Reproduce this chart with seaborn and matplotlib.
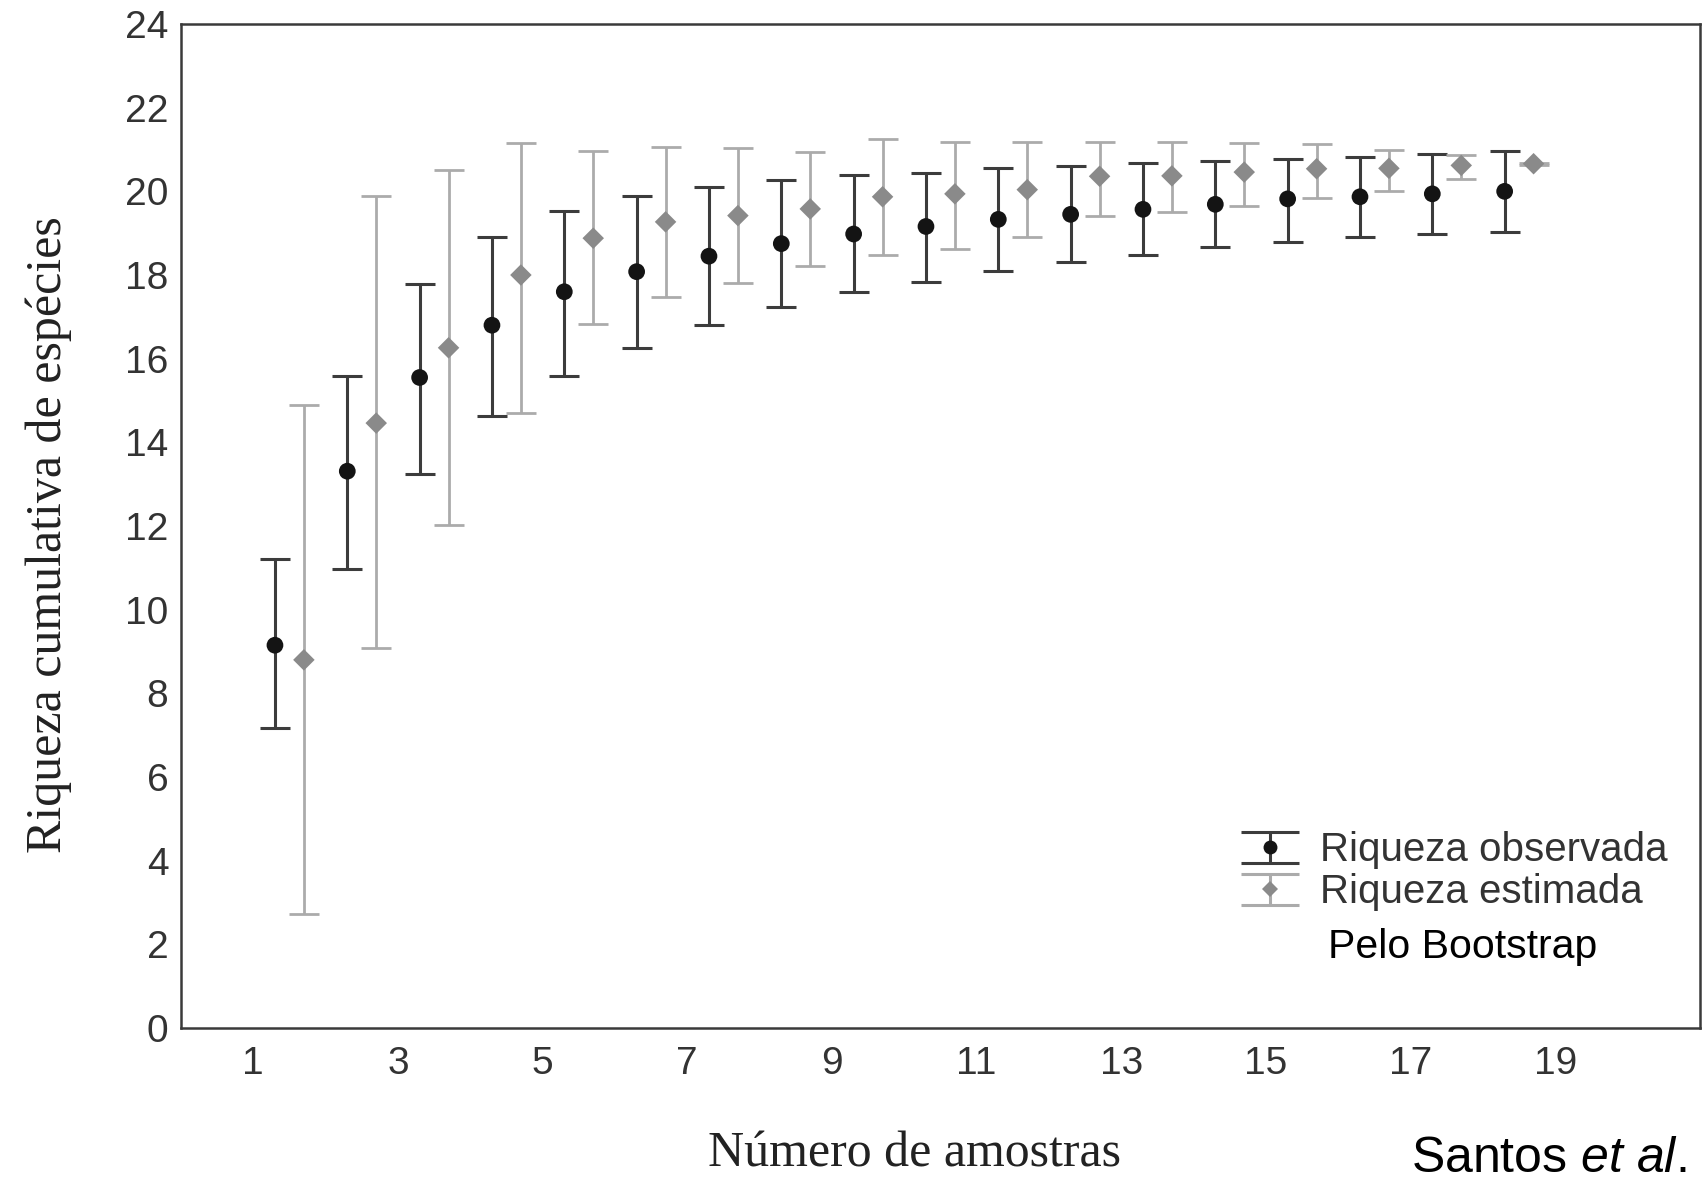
import numpy as np
import matplotlib
matplotlib.use("Agg")
import matplotlib.pyplot as plt
import seaborn as sns
import pandas as pd
from matplotlib.lines import Line2D
from matplotlib.collections import LineCollection
from matplotlib.container import ErrorbarContainer
from matplotlib.legend_handler import HandlerErrorbar

# dados (riqueza cumulativa por número de amostras)
amostras = np.arange(1, 19)

obs_media = [9.15, 13.31, 15.55, 16.80, 17.60, 18.08, 18.45, 18.75, 18.98,
             19.16, 19.33, 19.45, 19.57, 19.69, 19.82, 19.87, 19.94, 20.00]
obs_sup = [11.21, 15.59, 17.79, 18.90, 19.53, 19.88, 20.10, 20.26, 20.38,
           20.45, 20.55, 20.60, 20.67, 20.73, 20.77, 20.82, 20.90, 20.96]
obs_inf = [7.16, 10.97, 13.25, 14.64, 15.59, 16.25, 16.80, 17.24, 17.60,
           17.84, 18.09, 18.31, 18.49, 18.67, 18.80, 18.90, 18.98, 19.04]

est_media = [8.80, 14.46, 16.26, 18.00, 18.88, 19.27, 19.42, 19.58, 19.87,
             19.94, 20.04, 20.36, 20.37, 20.46, 20.54, 20.55, 20.62, 20.66]
est_sup = [14.89, 19.90, 20.51, 21.16, 20.96, 21.06, 21.04, 20.94, 21.25,
           21.19, 21.18, 21.19, 21.18, 21.16, 21.14, 21.00, 20.88, 20.68]
est_inf = [2.72, 9.09, 12.02, 14.69, 16.82, 17.48, 17.82, 18.21, 18.47,
           18.63, 18.90, 19.40, 19.51, 19.65, 19.83, 20.02, 20.30, 20.64]

legenda = ['Riqueza observada', 'Riqueza estimada']

df = pd.DataFrame({
    'amostra': np.concatenate([amostras + 0.3, amostras + 0.7]),
    'media': obs_media + est_media,
    'sup': obs_sup + est_sup,
    'inf': obs_inf + est_inf,
    'serie': [legenda[0]] * len(amostras) + [legenda[1]] * len(amostras),
})

sns.set_style("white")
plt.rcParams['font.family'] = ['Liberation Sans', 'DejaVu Sans']
plt.rcParams['mathtext.fontset'] = 'custom'
plt.rcParams['mathtext.rm'] = 'Liberation Sans'
plt.rcParams['mathtext.it'] = 'Liberation Sans:italic'

cor_obs, cor_obs_barra = '#141414', '#3c3c3c'
cor_est, cor_est_barra = '#8a8a8a', '#ababab'
cinza_txt = '#333333'

fig = plt.figure(figsize=(17.02, 11.77), dpi=100)
ax = fig.add_axes([0.1063, 0.1266, 0.8925, 0.853])

# barras de erro
for serie, cb, lw in zip(legenda, [cor_obs_barra, cor_est_barra], [2.2, 2.0]):
    d = df[df['serie'] == serie]
    ax.errorbar(d['amostra'], d['media'],
                yerr=[d['media'] - d['inf'], d['sup'] - d['media']],
                fmt='none', ecolor=cb, elinewidth=lw, capsize=11, capthick=lw, zorder=2)

# pontos
sns.scatterplot(data=df, x='amostra', y='media', hue='serie', style='serie',
                palette={legenda[0]: cor_obs, legenda[1]: cor_est},
                markers={legenda[0]: 'o', legenda[1]: 'D'},
                size='serie', sizes={legenda[0]: 145, legenda[1]: 120},
                edgecolor='none', legend=False, ax=ax, zorder=3)

ax.set_xlim(0, 21)
ax.set_ylim(0, 24)
ax.set_xticks(range(1, 21))
ax.set_xticklabels([str(i) if i % 2 == 1 else '' for i in range(1, 21)])
ax.set_yticks(range(0, 25, 2))
ax.tick_params(direction='in', length=10, width=1.5, colors=cinza_txt,
               labelsize=28, labelcolor=cinza_txt, top=False, right=False)
ax.tick_params(axis='x', pad=13)
ax.tick_params(axis='y', pad=9)
for s in ax.spines.values():
    s.set_color('#3a3a3a')
    s.set_linewidth(1.8)

ax.set_ylabel('Riqueza cumulativa de espécies', family='Liberation Serif',
              fontsize=36, color='#222222')
ax.yaxis.set_label_coords(-0.072, 0.491)
ax.set_xlabel('Número de amostras', family='Liberation Serif',
              fontsize=36, color='#222222', va='center')
ax.xaxis.set_label_coords(0.4826, -0.126)

# legenda com barras de erro
def proxy(cor, cor_barra, marcador, tam):
    ponto = Line2D([], [], marker=marcador, color=cor, linestyle='none',
                   markersize=tam, markeredgewidth=0)
    cap = Line2D([], [], marker='_', color=cor_barra, linestyle='none',
                 markersize=42, markeredgewidth=2.2)
    barra = LineCollection([], colors=cor_barra, linewidths=2.2)
    return ErrorbarContainer((ponto, (cap, cap), (barra,)), has_yerr=True)

h_obs = proxy(cor_obs, cor_obs_barra, 'o', 10)
h_est = proxy(cor_est, cor_est_barra, 'D', 8.5)
leg = ax.legend([h_obs, h_est], legenda, loc='center left',
                bbox_to_anchor=(0.6972, 0.156), frameon=False, fontsize=29,
                borderaxespad=0, borderpad=0, labelspacing=0.1,
                handlelength=1.47, handletextpad=0.52,
                handler_map={ErrorbarContainer: HandlerErrorbar(yerr_size=0.38)})
for t in leg.get_texts():
    t.set_color(cinza_txt)

fig.text(0.8593, 0.195, 'Pelo Bootstrap', fontsize=29.5, color='black',
         ha='center', va='center')
fig.text(0.829, 0.0042, r'Santos $\mathit{et}$ $\mathit{al.}$ 2010', fontsize=36,
         color='black', ha='left', va='baseline')

fig.savefig('out.png', dpi=100)
